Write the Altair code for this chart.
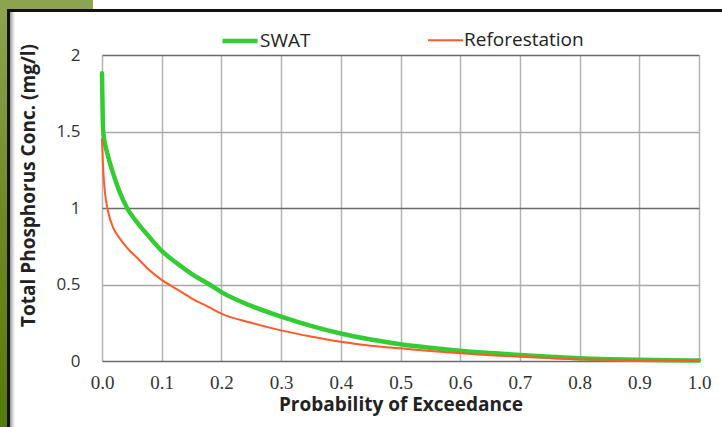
import altair as alt
import pandas as pd

# Probability of exceedance (x) and Total Phosphorus concentration (mg/l)
prob = [0, 0.002, 0.005, 0.01, 0.02, 0.03, 0.042, 0.06, 0.075, 0.1, 0.125, 0.15,
        0.18, 0.2, 0.25, 0.3, 0.35, 0.4, 0.45, 0.5, 0.55, 0.6, 0.65, 0.7, 0.75,
        0.8, 0.85, 0.9, 0.95, 1.0]
swat = [1.88, 1.5, 1.42, 1.34, 1.21, 1.1, 1.0, 0.9, 0.83, 0.72, 0.64, 0.57,
        0.5, 0.45, 0.36, 0.29, 0.23, 0.18, 0.14, 0.11, 0.087, 0.067, 0.052, 0.039,
        0.028, 0.018, 0.012, 0.008, 0.005, 0.003]
reforestation = [1.45, 1.25, 1.1, 0.98, 0.86, 0.8, 0.74, 0.67, 0.61, 0.53, 0.47, 0.41,
                 0.35, 0.31, 0.25, 0.2, 0.16, 0.126, 0.1, 0.083, 0.065, 0.05, 0.038, 0.028,
                 0.019, 0.011, 0.007, 0.004, 0.002, 0.001]
series = ["SWAT", "Reforestation"]
colors = ["#33cc33", "#ff5a28"]
widths = [4.5, 2]
x_ticks = [0.0, 0.1, 0.2, 0.3, 0.4, 0.5, 0.6, 0.7, 0.8, 0.9, 1.0]
y_ticks = [0, 0.5, 1, 1.5, 2]

rows = []
for p, a, b in zip(prob, swat, reforestation):
    rows.append({"p": p, "tp": a, "series": "SWAT", "order": 0})
    rows.append({"p": p, "tp": b, "series": "Reforestation", "order": 1})
df = pd.DataFrame(rows)

W, H = 597, 306
PL, PT = 102, 55

lines = alt.Chart(df).mark_line(strokeCap="round", interpolate="monotone").encode(
    x=alt.X("p:Q", scale=alt.Scale(domain=[0, 1], nice=False),
            axis=alt.Axis(values=x_ticks, format=".1f", title="Probability of Exceedance",
                          grid=True, gridColor="#b4b4b4", gridWidth=1.5,
                          domain=False, ticks=False, labelPadding=12, labelFlush=False,
                          labelFont="Liberation Serif", labelFontSize=19, labelColor="#333",
                          titleFont="Open Sans", titleFontWeight="bold", titleFontSize=19,
                          titleColor="#222", titlePadding=3)),
    y=alt.Y("tp:Q", scale=alt.Scale(domain=[0, 2], nice=False),
            axis=alt.Axis(values=y_ticks, title="Total Phosphorus Conc. (mg/l)",
                          labelExpr="datum.value",
                          grid=True, gridWidth=1.5,
                          gridColor=alt.expr("datum.value % 1 === 0 ? '#6a6a6a' : '#a8a8a8'"),
                          domain=False, ticks=False, labelPadding=22,
                          labelFont="Open Sans", labelFontSize=17, labelColor="#333",
                          titleFont="Open Sans", titleFontWeight="bold", titleFontSize=19,
                          titleColor="#222", titleX=-74, titleY=130,
                          titleAlign="center", titleBaseline="middle")),
    color=alt.Color("series:N", scale=alt.Scale(domain=series, range=colors),
                    legend=alt.Legend(title=None, orient="none", legendX=118, legendY=-34,
                                      direction="horizontal", symbolType="stroke",
                                      symbolSize=1225, symbolStrokeWidth=3,
                                      labelFont="Open Sans", labelFontSize=19,
                                      labelColor="#222", labelOffset=0,
                                      columnPadding=113)),
    strokeWidth=alt.StrokeWidth("series:N", scale=alt.Scale(domain=series, range=widths),
                                legend=None),
    order="order:Q",
)

# decorative frame around the slide-style chart
frame_df = pd.DataFrame({"k": [0]})
base = alt.Chart(frame_df)
olive_top = base.mark_rect(fill="#8da34f").encode(
    x=alt.value(-PL), x2=alt.value(-PL + 93), y=alt.value(-PT), y2=alt.value(-PT + 10))
left_strip = base.mark_rect(
    fill=alt.Gradient(gradient="linear", x1=0, y1=0, x2=0, y2=1,
                      stops=[alt.GradientStop(color="#8da34f", offset=0),
                             alt.GradientStop(color="#6e8a22", offset=0.5),
                             alt.GradientStop(color="#557a0c", offset=1)])).encode(
    x=alt.value(-PL), x2=alt.value(-PL + 7), y=alt.value(-PT + 10), y2=alt.value(427 - PT))
shadow = base.mark_rect(
    fill=alt.Gradient(gradient="linear", x1=0, y1=0, x2=1, y2=0,
                      stops=[alt.GradientStop(color="#888888", offset=0),
                             alt.GradientStop(color="#ffffff", offset=1)])).encode(
    x=alt.value(-PL + 9), x2=alt.value(-PL + 15), y=alt.value(-PT + 12), y2=alt.value(427 - PT))
top_border = base.mark_rect(fill="#111111").encode(
    x=alt.value(-PL + 7), x2=alt.value(722 - PL), y=alt.value(-PT + 9), y2=alt.value(-PT + 12))
left_border = base.mark_rect(fill="#111111").encode(
    x=alt.value(-PL + 7), x2=alt.value(-PL + 10), y=alt.value(-PT + 9), y2=alt.value(427 - PT))

chart = alt.layer(olive_top, left_strip, shadow, top_border, left_border, lines).properties(
    width=W, height=H,
    padding={"left": PL, "top": PT, "right": 722 - PL - W, "bottom": 427 - PT - H},
    autosize=alt.AutoSizeParams(type="none"),
    background="white",
).configure_view(stroke=None)

chart.save("out.html", embed_options={"renderer": "svg", "actions": False})
